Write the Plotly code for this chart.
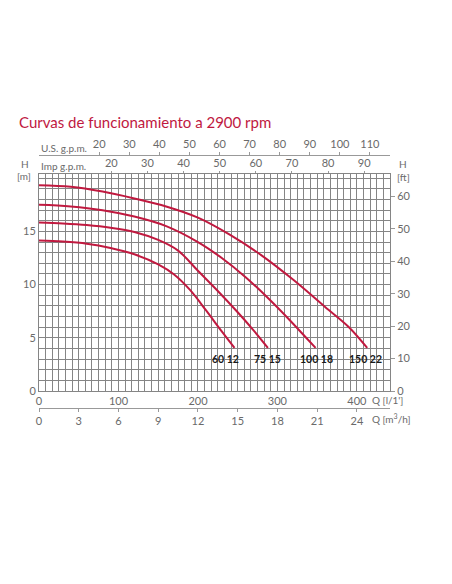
import plotly.graph_objects as go

# Pump curves: flow Q [l/min], head H [m]
PUMP_LABELS = ["60 12", "75 15", "100 18", "150 22"]

Q_60_12 = [0, 30, 60, 90, 120, 150, 170, 190, 210, 230, 246]
H_60_12 = [14.15, 14.05, 13.85, 13.45, 12.85, 11.9, 10.95, 9.5, 7.6, 5.6, 4.05]

Q_75_15 = [0, 30, 60, 90, 120, 150, 175, 200, 225, 250, 270, 288]
H_75_15 = [15.85, 15.75, 15.6, 15.35, 14.95, 14.2, 13.2, 11.3, 9.4, 7.4, 5.7, 4.05]

Q_100_18 = [0, 40, 80, 120, 160, 200, 230, 260, 290, 315, 335, 348]
H_100_18 = [17.5, 17.35, 17.0, 16.4, 15.5, 14.0, 12.5, 10.7, 8.6, 6.7, 5.1, 4.05]

Q_150_22 = [0, 40, 80, 120, 160, 200, 240, 280, 320, 360, 390, 413]
H_150_22 = [19.35, 19.2, 18.75, 18.1, 17.35, 16.3, 14.7, 12.75, 10.45, 7.9, 6.0, 4.05]

CURVES = [(Q_60_12, H_60_12), (Q_75_15, H_75_15), (Q_100_18, H_100_18), (Q_150_22, H_150_22)]

# Axis scales
Q_LPM_TICKS = [0, 100, 200, 300, 400]
Q_M3H_TICKS = [0, 3, 6, 9, 12, 15, 18, 21, 24]
US_GPM_TICKS = [20, 30, 40, 50, 60, 70, 80, 90, 100, 110]
IMP_GPM_TICKS = [20, 30, 40, 50, 60, 70, 80, 90]
H_M_TICKS = [0, 5, 10, 15]
H_FT_TICKS = [0, 10, 20, 30, 40, 50, 60]

Q_MAX_M3H = 26.5
Q_MAX = Q_MAX_M3H * 1000 / 60  # l/min
H_MAX = 20.4  # m
US_GAL = 3.78541
IMP_GAL = 4.54609
FT = 0.3048

RED = "#c0193f"
GRID = "#858585"
TEXT = "#6a6a6a"
FONT = "Lato"

# page geometry (px) used for paper-relative placement
W, H = 452, 584
ML, MR, MT, MB = 39, 62, 110, 150
PAPER_H = H - MT - MB
PLOT_TOP, PLOT_BOTTOM = 174, 391

# small nudges so the pump labels sit as in the original sheet
LABEL_XSHIFT = [-9, 0, 1, -2]


def py(y_px):
    return (H - MB - y_px) / PAPER_H


def px(x_px):
    return (x_px - ML) / (W - ML - MR)


fig = go.Figure()

for (q, h), name, dx in zip(CURVES, PUMP_LABELS, LABEL_XSHIFT):
    fig.add_trace(go.Scatter(
        x=q, y=h, mode="lines", name=name,
        line=dict(color=RED, width=2, shape="spline", smoothing=1.0),
        showlegend=False, hoverinfo="skip",
    ))
    fig.add_annotation(
        x=q[-1], y=h[-1], text=f"<b>{name}</b>", showarrow=False,
        yshift=-11, xshift=dx, font=dict(family=FONT, size=10.5, color="#1a1a1a"),
    )

# invisible carriers so the extra scales get drawn
for xa, ya in [("x2", "y"), ("x3", "y"), ("x4", "y"), ("x", "y2")]:
    fig.add_trace(go.Scatter(x=[0], y=[0], xaxis=xa, yaxis=ya, mode="markers",
                             marker=dict(opacity=0), showlegend=False, hoverinfo="skip"))

tick_font = dict(family=FONT, size=11, color=TEXT)
dom_y = [py(PLOT_BOTTOM), py(PLOT_TOP)]

fig.update_layout(
    width=W, height=H,
    margin=dict(l=ML, r=MR, t=MT, b=MB, autoexpand=False),
    paper_bgcolor="white", plot_bgcolor="white",
    title=dict(text="Curvas de funcionamiento a 2900 rpm", x=19 / W, xanchor="left",
               y=1 - 123 / H, yanchor="middle",
               font=dict(family=FONT, size=15, color=RED)),
    xaxis=dict(
        range=[0, Q_MAX], tickvals=Q_LPM_TICKS, tickfont=tick_font, ticks="",
        showgrid=True, gridcolor=GRID, gridwidth=1,
        minor=dict(tickmode="linear", tick0=0, dtick=Q_MAX / 53, showgrid=True,
                   gridcolor=GRID, gridwidth=1),
        showline=True, mirror=True, linecolor=GRID, linewidth=1,
        zeroline=False, fixedrange=True, automargin=False,
    ),
    xaxis2=dict(
        overlaying="x", anchor="free", position=py(408), side="bottom",
        range=[0, Q_MAX_M3H], tickvals=Q_M3H_TICKS, tickfont=tick_font,
        ticks="outside", ticklen=3, tickcolor="#999", showgrid=False,
        showline=True, linecolor="#999", linewidth=1, zeroline=False, automargin=False,
    ),
    xaxis3=dict(
        overlaying="x", anchor="free", position=py(155), side="top",
        range=[0, Q_MAX / US_GAL], tickvals=US_GPM_TICKS, tickfont=tick_font,
        ticks="outside", ticklen=3, tickcolor="#999", showgrid=False,
        showline=True, linecolor="#999", linewidth=1, zeroline=False, automargin=False,
    ),
    xaxis4=dict(
        overlaying="x", anchor="y", side="top",
        range=[0, Q_MAX / IMP_GAL], tickvals=IMP_GPM_TICKS, tickfont=tick_font,
        ticks="outside", ticklen=2, tickcolor="#999", showgrid=False,
        showline=False, zeroline=False, automargin=False,
    ),
    yaxis=dict(
        domain=dom_y, range=[0, H_MAX], tickvals=H_M_TICKS, tickfont=tick_font,
        ticks="", showgrid=True, gridcolor=GRID, gridwidth=1,
        minor=dict(tickmode="linear", tick0=0, dtick=1, showgrid=True,
                   gridcolor=GRID, gridwidth=1),
        showline=True, mirror=True, linecolor=GRID, linewidth=1, zeroline=False,
        automargin=False,
    ),
    yaxis2=dict(
        overlaying="y", side="right", anchor="x",
        range=[0, H_MAX / FT], tickvals=H_FT_TICKS, tickfont=tick_font,
        ticks="outside", ticklen=4, tickcolor="#999", showgrid=False,
        showline=False, zeroline=False, automargin=False,
    ),
)

# axis captions
captions = [
    ("U.S. g.p.m.", 39, 148, "left"),
    ("Imp g.p.m.", 39, 166, "left"),
    ("H", 25, 164, "center"),
    ("[m]", 24, 176, "center"),
    ("H", 403, 164, "center"),
    ("[ft]", 403, 177, "center"),
    ("Q [l/1']", 370, 400, "left"),
    ("Q [m<sup>3</sup>/h]", 370, 418, "left"),
]
for text, x_px, y_px, anchor in captions:
    fig.add_annotation(
        xref="paper", yref="paper", x=px(x_px), y=py(y_px), text=text,
        showarrow=False, xanchor=anchor, yanchor="middle",
        font=dict(family=FONT, size=10, color=TEXT),
    )

# the page's default 8px body margin would push the whole sheet off its grid
fig.write_html("out.html", config={"displayModeBar": False},
               post_script="document.body.style.margin='0';")
